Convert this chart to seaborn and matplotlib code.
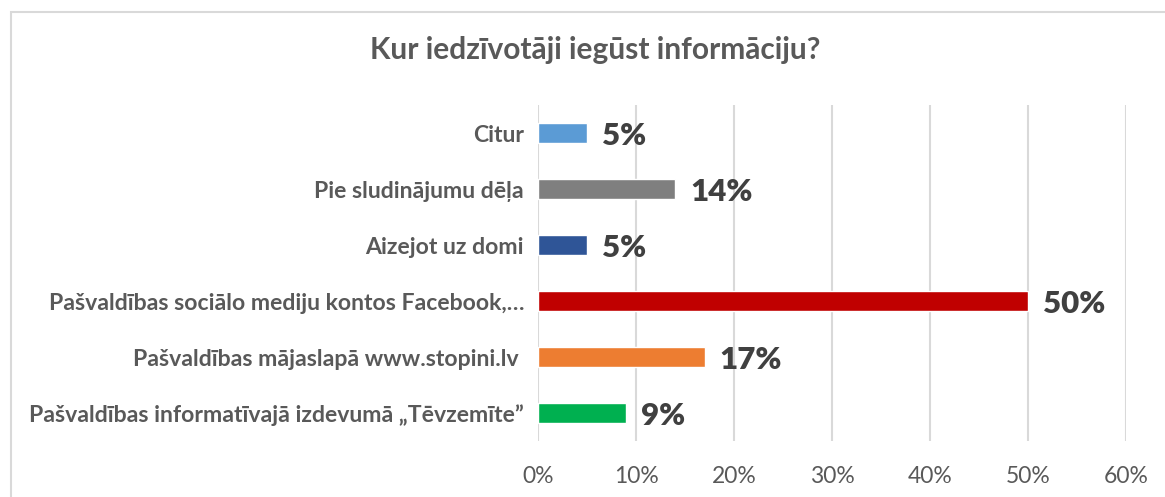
import matplotlib
matplotlib.use("Agg")
import matplotlib.pyplot as plt
import seaborn as sns
import pandas as pd
from matplotlib.patches import Rectangle
from matplotlib.ticker import FuncFormatter

categories = [
    "Citur",
    "Pie sludinājumu dēļa",
    "Aizejot uz domi",
    "Pašvaldības sociālo mediju kontos Facebook,…",
    "Pašvaldības mājaslapā www.stopini.lv ",
    "Pašvaldības informatīvajā izdevumā „Tēvzemīte”",
]
values = [5, 14, 5, 50, 17, 9]
colors = ["#5B9BD5", "#7F7F7F", "#2F5597", "#C00000", "#ED7D31", "#00B050"]
title = "Kur iedzīvotāji iegūst informāciju?"
xticks = [0, 10, 20, 30, 40, 50, 60]

sns.set_theme(style="white")
plt.rcParams["font.family"] = ["Lato", "DejaVu Sans"]

fig = plt.figure(figsize=(11.65, 4.97), dpi=100)
ax = fig.add_axes([538 / 1165, 1 - 441 / 497, (1126 - 538) / 1165, 336 / 497])

df = pd.DataFrame({"cat": categories, "val": values})
sns.barplot(data=df, y="cat", x="val", hue="cat", palette=colors, legend=False,
            width=0.36, orient="h", ax=ax, saturation=1, zorder=3)

ax.set_xlim(0, 60)
ax.set_xticks(xticks)
ax.xaxis.set_major_formatter(FuncFormatter(lambda v, p: f"{v:.0f}%"))
ax.grid(axis="x", color="#D9D9D9", linewidth=1.5, zorder=0)
ax.grid(axis="y", visible=False)
for s in ax.spines.values():
    s.set_visible(False)
ax.set_xlabel("")
ax.set_ylabel("")
ax.tick_params(axis="x", length=0, pad=18, labelsize=16.5, labelcolor="#595959")
ax.tick_params(axis="y", length=0, pad=10, labelsize=16.6, labelcolor="#595959")
for lab in ax.get_yticklabels():
    lab.set_fontweight("bold")

for i, v in enumerate(values):
    ax.text(v + 1.5, i + 0.05, f"{v}%", va="center", ha="left",
            fontsize=22.5, fontweight="heavy", color="#404040")

fig.text(595 / 1165, 1 - 50 / 497, title, ha="center", va="center",
         fontsize=21.5, fontweight="bold", color="#595959")

fig.patches.append(Rectangle((11 / 1165, -0.1), 1.2, 1 - 12 / 497 + 0.1,
                             transform=fig.transFigure, fill=False,
                             edgecolor="#D9D9D9", linewidth=1.5))

fig.savefig("out.png", dpi=100)
